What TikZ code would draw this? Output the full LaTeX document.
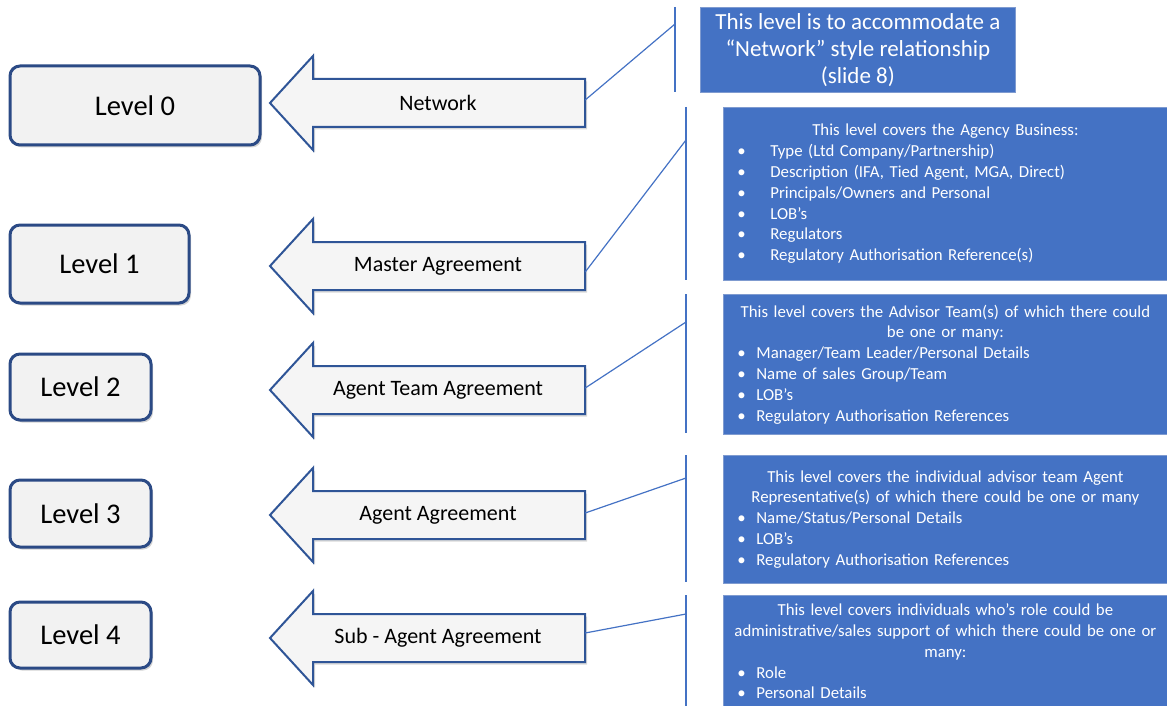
\documentclass[tikz,border=0pt]{standalone}
\usepackage{fontspec}
\setmainfont{Carlito}
\usetikzlibrary{shadows,calc}
\definecolor{lvborder}{HTML}{2B4A85}
\definecolor{lvfill}{HTML}{F2F2F2}
\definecolor{arborder}{HTML}{2F5597}
\definecolor{arfill}{HTML}{F5F5F5}
\definecolor{linecol}{HTML}{4472C4}
\definecolor{boxblue}{HTML}{4472C4}
\definecolor{boxedge}{HTML}{7F9BD0}
\setlength\parindent{0pt}
\newcommand\bulitem[2]{\par\hspace*{14pt}\makebox[#1][l]{•}#2}
\begin{document}
\begin{tikzpicture}[x=1pt,y=-1pt,
  levelbox/.style={draw=lvborder, line width=3pt, fill=lvfill, rounded corners=10pt,
    font=\fontsize{28.5}{32}\selectfont, text=black,
    drop shadow={opacity=0.35, shadow xshift=2pt, shadow yshift=-2.5pt}},
  arrowshape/.style={draw=arborder, line width=2pt, fill=arfill, line join=miter,
    drop shadow={opacity=0.3, shadow xshift=2pt, shadow yshift=-2.5pt}},
  arrowlabel/.style={minimum width=272pt, minimum height=48pt, inner sep=0pt,
    font=\fontsize{22}{26}\selectfont, text=black},
  conn/.style={draw=linecol, line width=1.2pt},
  vline/.style={draw=linecol, line width=1.5pt},
  bluebox/.style={fill=boxblue, draw=boxedge, line width=0.8pt, text=white,
    inner sep=0pt, anchor=north west},
  smalltext/.style={font=\fontsize{16.8}{20.8}\selectfont, text width=444pt, minimum width=444pt}
]
\useasboundingbox (0,0) rectangle (1167,706);

% Level boxes
\node[levelbox, minimum width=250pt, minimum height=79pt] (L0) at (135,105.5) {Level 0};
\node[levelbox, minimum width=179pt, minimum height=78pt] (L1) at (99.5,264) {Level 1};
\node[levelbox, minimum width=141pt, minimum height=66pt] (L2) at (80.5,387) {Level 2};
\node[levelbox, minimum width=141pt, minimum height=67pt] (L3) at (80.5,513.5) {Level 3};
\node[levelbox, minimum width=141pt, minimum height=66pt] (L4) at (80.5,635) {Level 4};

% Block arrows
\foreach \n/\y/\t in {0/103/Network, 1/266/Master Agreement, 2/390/Agent Team Agreement, 3/515/Agent Agreement, 4/638/Sub - Agent Agreement}{
  \draw[arrowshape] (585,\y-24) -- (313,\y-24) -- (313,\y-47) -- (270,\y) -- (313,\y+47) -- (313,\y+24) -- (585,\y+24) -- cycle;
  \node[arrowlabel] (a\n) at (449,\y) {\hspace*{-22pt}\t};
}

% Blue boxes
\node[bluebox, minimum width=315pt, minimum height=85pt, align=center,
  font=\fontsize{23}{27}\selectfont] (b0) at (700,7)
  {This level is to accommodate a\\“Network” style relationship\\(slide 8)};

\node[bluebox, smalltext, minimum height=173pt] (b1) at (723,107)
  {{\centering This level covers the Agency Business:\par}\raggedright
   \bulitem{33pt}{Type (Ltd Company/Partnership)}
   \bulitem{33pt}{Description (IFA, Tied Agent, MGA, Direct)}
   \bulitem{33pt}{Principals/Owners and Personal}
   \bulitem{33pt}{LOB’s}
   \bulitem{33pt}{Regulators}
   \bulitem{33pt}{Regulatory Authorisation Reference(s)}\par};

\node[bluebox, smalltext, minimum height=140pt] (b2) at (723,294)
  {{\centering This level covers the Advisor Team(s) of which there could\\be one or many:\par}\raggedright
   \bulitem{19pt}{Manager/Team Leader/Personal Details}
   \bulitem{19pt}{Name of sales Group/Team}
   \bulitem{19pt}{LOB’s}
   \bulitem{19pt}{Regulatory Authorisation References}\par};

\node[bluebox, smalltext, minimum height=128pt] (b3) at (723,455)
  {{\centering This level covers the individual advisor team Agent\\Representative(s) of which there could be one or many\par}\raggedright
   \bulitem{19pt}{Name/Status/Personal Details}
   \bulitem{19pt}{LOB’s}
   \bulitem{19pt}{Regulatory Authorisation References}\par};

\node[bluebox, smalltext, minimum height=112pt] (b4) at (723,595)
  {{\centering This level covers individuals who’s role could be\\administrative/sales support of which there could be one or\\many:\par}\raggedright
   \bulitem{19pt}{Role}
   \bulitem{19pt}{Personal Details}\par};

% Bracket lines
\coordinate (v0a) at (675,7);   \coordinate (v0b) at (675,92);  \coordinate (t0) at (675,24);
\coordinate (v1a) at (686,107); \coordinate (v1b) at (686,280); \coordinate (t1) at (686,140);
\coordinate (v2a) at (686,294); \coordinate (v2b) at (686,433); \coordinate (t2) at (686,322);
\coordinate (v3a) at (686,455); \coordinate (v3b) at (686,582); \coordinate (t3) at (686,478);
\coordinate (v4a) at (686,595); \coordinate (v4b) at (686,706); \coordinate (t4) at (686,614);
\foreach \n in {0,...,4}{ \draw[vline] (v\n a) -- (v\n b); }

% Connectors
\draw[conn] ([yshift=3pt]a0.east) -- (t0);
\draw[conn] ([yshift=-6pt]a1.east) -- (t1);
\draw[conn] ([yshift=2pt]a2.east) -- (t2);
\draw[conn] ([yshift=2pt]a3.east) -- (t3);
\draw[conn] ([yshift=5pt]a4.east) -- (t4);
\end{tikzpicture}
\end{document}
